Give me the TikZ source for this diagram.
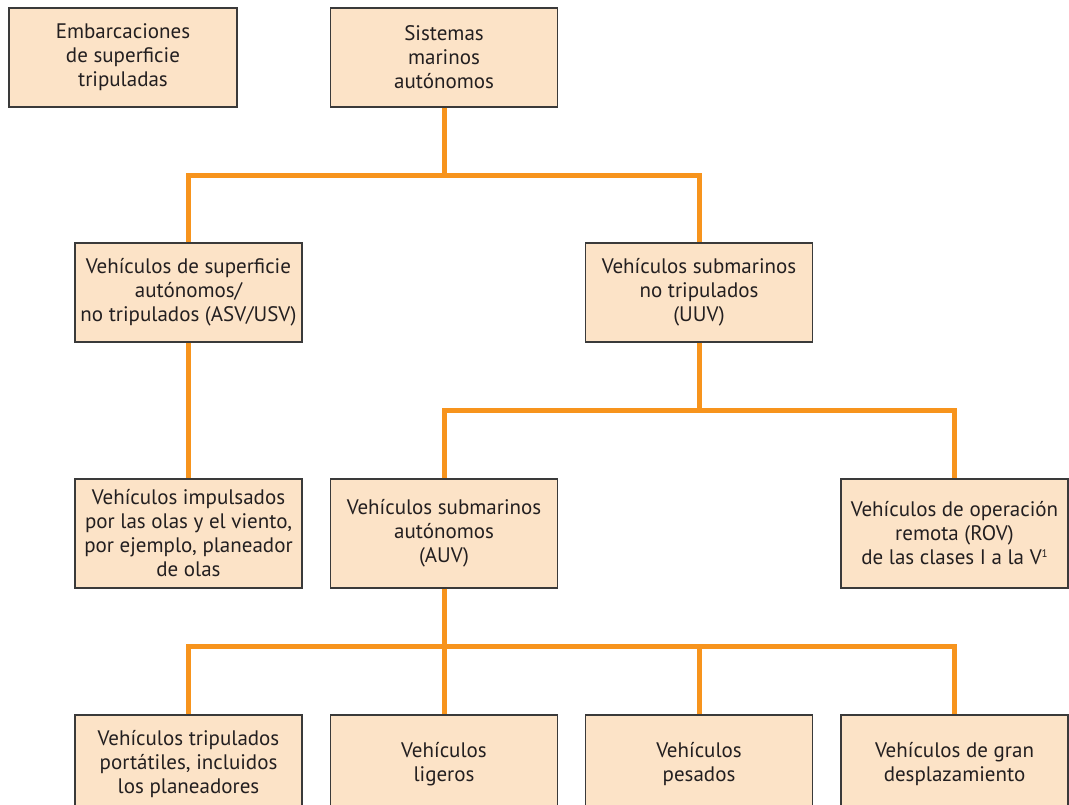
\documentclass[tikz,border=0pt]{standalone}
\usepackage{fontspec}
\setmainfont{PT Sans}
\usetikzlibrary{calc}
\definecolor{boxfill}{HTML}{FCE3C7}
\definecolor{boxdraw}{HTML}{3A3A3A}
\definecolor{connc}{HTML}{F7941D}
\definecolor{txt}{HTML}{231F20}
\newcommand{\smallsup}[1]{\raisebox{0.75ex}{\fontsize{11}{11}\selectfont #1}}
\begin{document}
\begin{tikzpicture}[x=1pt,y=-1pt,
  box/.style={draw=boxdraw, line width=1.2pt, fill=boxfill, minimum width=227pt,
    minimum height=99pt, inner sep=0pt, align=center, text=txt,
    font=\fontsize{21}{24}\selectfont},
  tallbox/.style={box, minimum height=109pt},
  link/.style={draw=connc, line width=5pt, line join=miter}]
\useasboundingbox (0,0) rectangle (1069,805);
\clip (0,0) rectangle (1069,805);
% row 1
\node[box, minimum width=228pt] (emb) at (123,57.5) {Embarcaciones\\de superficie\\tripuladas};
\node[box] (sis) at (444,57.5) {Sistemas\\marinos\\autónomos};
% row 2
\node[box] (asv) at (188.5,292.5) {Vehículos de superficie\\autónomos/\\no tripulados (ASV/USV)};
\node[box] (uuv) at (699,292.5) {Vehículos submarinos\\no tripulados\\(UUV)};
% row 3
\node[tallbox] (wave) at (188.5,533.5) {Vehículos impulsados\\por las olas y el viento,\\por ejemplo, planeador\\de olas};
\node[tallbox] (auv) at (444,533.5) {Vehículos submarinos\\autónomos\\(AUV)};
\node[tallbox] (rov) at (954.5,533.5) {Vehículos de operación\\remota (ROV)\\de las clases I a la V\smallsup{1}};
% row 4
\node[box] (b1) at (188.5,764.5) {Vehículos tripulados\\portátiles, incluidos\\los planeadores};
\node[box] (b2) at (444,764.5) {Vehículos\\ligeros};
\node[box] (b3) at (699,764.5) {Vehículos\\pesados};
\node[box] (b4) at (954.5,764.5) {Vehículos de gran\\desplazamiento};
% connectors
\coordinate (j1) at (444,176);
\coordinate (j2) at (699,410);
\coordinate (j3) at (444,646.5);
\draw[link] (sis.south) -- (j1);
\draw[link] (asv.north) |- (j1) -| (uuv.north);
\draw[link] (asv.south) -- (wave.north);
\draw[link] (uuv.south) -- (j2);
\draw[link] (auv.north) |- (j2) -| (rov.north);
\draw[link] (auv.south) -- (j3);
\draw[link] (b1.north) |- (j3) -| (b4.north);
\draw[link] (j3) -- (b2.north);
\draw[link] (b3.north |- j3) -- (b3.north);
\end{tikzpicture}
\end{document}
